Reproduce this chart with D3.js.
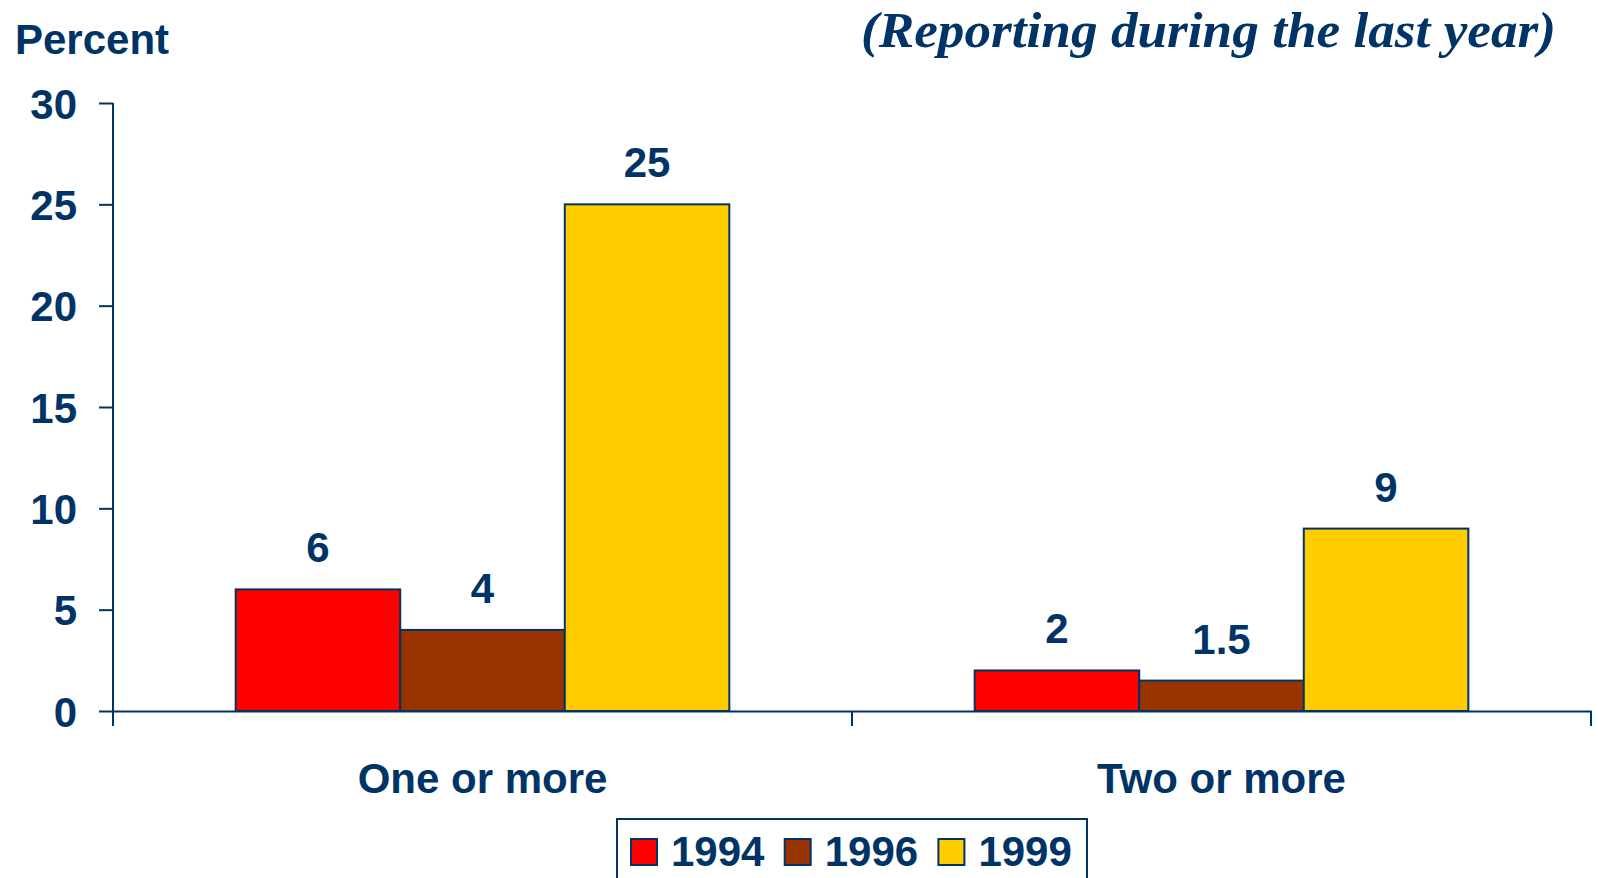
<!DOCTYPE html>
<html>
<head>
<meta charset="utf-8">
<script src="https://cdn.jsdelivr.net/npm/d3@7"></script>
<style>
  body { margin: 0; background: #fff; }
  text { font-family: "Liberation Sans", Arial, sans-serif; font-weight: bold; fill: #003366; }
</style>
</head>
<body>
<div id="chart"></div>
<script>
// data
let categories = ['One or more', 'Two or more'];
let years = ['1994', '1996', '1999'];
let values1994 = [6, 2];
let values1996 = [4, 1.5];
let values1999 = [25, 9];
let valueLabels1994 = ['6', '2'];
let valueLabels1996 = ['4', '1.5'];
let valueLabels1999 = ['25', '9'];
let yTicks = [0, 5, 10, 15, 20, 25, 30];
let colors = ['#FF0000', '#993300', '#FFCC00'];

let series = [values1994, values1996, values1999];
let seriesLabels = [valueLabels1994, valueLabels1996, valueLabels1999];

let width = 1598,
  height = 878;
let navy = '#003366';

let svg = d3
  .select('#chart')
  .append('svg')
  .attr('width', width)
  .attr('height', height);

// scales
let y = d3.scaleLinear().domain([0, 30]).range([711, 103]);
let x0 = d3
  .scaleBand()
  .domain(categories)
  .range([113, 1591])
  .paddingInner(0.332)
  .paddingOuter(0.166);
let x1 = d3.scaleBand().domain(years).range([0, x0.bandwidth()]);

// flatten into rows for drawing
let rows = [];
categories.forEach((c, i) => {
  years.forEach((yr, j) => {
    rows.push({ cat: c, year: yr, value: series[j][i], label: seriesLabels[j][i], color: colors[j] });
  });
});

// y axis
let yAxis = svg
  .append('g')
  .attr('transform', 'translate(113,0)')
  .call(d3.axisLeft(y).tickValues(yTicks).tickSize(14).tickSizeOuter(0).tickPadding(22));
yAxis.selectAll('path, line').attr('stroke', navy).attr('stroke-width', 2);
yAxis.select('.domain').attr('d', 'M0,' + y(30) + 'V726');
yAxis.selectAll('text').style('font-size', '42px').attr('dy', '0.36em').attr('fill', navy);

// bars
svg
  .selectAll('rect.bar')
  .data(rows)
  .enter()
  .append('rect')
  .attr('class', 'bar')
  .attr('x', (d) => x0(d.cat) + x1(d.year))
  .attr('y', (d) => y(d.value))
  .attr('width', x1.bandwidth())
  .attr('height', (d) => y(0) - y(d.value))
  .attr('fill', (d) => d.color)
  .attr('stroke', navy)
  .attr('stroke-width', 2);

// value labels
svg
  .selectAll('text.val')
  .data(rows)
  .enter()
  .append('text')
  .attr('class', 'val')
  .attr('x', (d) => x0(d.cat) + x1(d.year) + x1.bandwidth() / 2)
  .attr('y', (d) => y(d.value) - 27)
  .attr('text-anchor', 'middle')
  .style('font-size', '42px')
  .text((d) => d.label);

// x axis
let xAxis = svg
  .append('g')
  .attr('transform', 'translate(0,' + y(0) + ')')
  .call(d3.axisBottom(x0).tickSize(0).tickSizeOuter(0).tickPadding(52));
xAxis.select('.domain').attr('stroke', navy).attr('stroke-width', 2);
xAxis.selectAll('text').style('font-size', '42px').attr('fill', navy);

// category boundary ticks
let bounds = d3.range(categories.length + 1).map((i) => x0.range()[0] + i * x0.step());
svg
  .selectAll('line.bound')
  .data(bounds)
  .enter()
  .append('line')
  .attr('class', 'bound')
  .attr('x1', (d) => d)
  .attr('x2', (d) => d)
  .attr('y1', y(0))
  .attr('y2', y(0) + 15)
  .attr('stroke', navy)
  .attr('stroke-width', 2);

// titles
svg.append('text').attr('x', 15).attr('y', 54).style('font-size', '42px').text('Percent');

svg
  .append('text')
  .attr('x', 1556)
  .attr('y', 47)
  .attr('text-anchor', 'end')
  .style('font-family', '"Liberation Serif", "Times New Roman", serif')
  .style('font-style', 'italic')
  .style('font-size', '50px')
  .attr('textLength', 695)
  .attr('lengthAdjust', 'spacingAndGlyphs')
  .text('(Reporting during the last year)');

// legend
let legend = svg.append('g');
legend
  .append('rect')
  .attr('x', 617)
  .attr('y', 819)
  .attr('width', 470)
  .attr('height', 80)
  .attr('fill', 'none')
  .attr('stroke', navy)
  .attr('stroke-width', 2);

let items = legend
  .selectAll('g.item')
  .data(years)
  .enter()
  .append('g')
  .attr('class', 'item')
  .attr('transform', (d, i) => 'translate(' + (631 + i * 153.7) + ',839)');
items
  .append('rect')
  .attr('width', 26)
  .attr('height', 26)
  .attr('fill', (d, i) => colors[i])
  .attr('stroke', navy)
  .attr('stroke-width', 2);
items
  .append('text')
  .attr('x', 40)
  .attr('y', 27)
  .style('font-size', '42px')
  .text((d) => d);
</script>
</body>
</html>
